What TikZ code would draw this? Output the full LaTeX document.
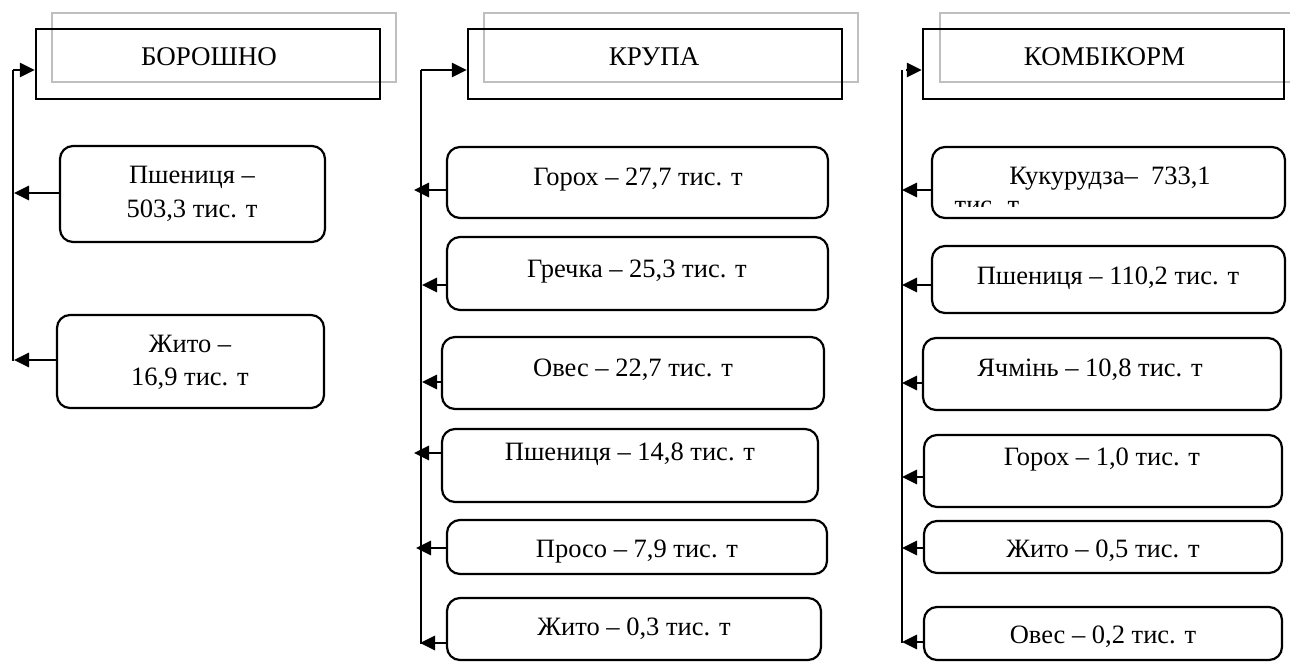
\documentclass[tikz,border=0pt]{standalone}
\usepackage{fontspec}
\setmainfont{Liberation Serif}
\usetikzlibrary{arrows.meta}
\begin{document}
\begin{tikzpicture}[x=1pt,y=-1pt,
  hdrbox/.style={draw=black,line width=2.4pt,minimum width=#1,minimum height=70pt,inner sep=0pt,fill=none},
  shadowbox/.style={draw=black!25,line width=2pt,minimum width=#1,minimum height=69pt,inner sep=0pt},
  itembox/.style n args={2}{draw=black,line width=2.2pt,rounded corners=13pt,minimum width=#1,minimum height=#2,inner sep=0pt},
  hdrtxt/.style={anchor=base,inner sep=0pt,font=\fontsize{27}{30}\selectfont},
  itemtxt/.style={anchor=base,inner sep=0pt,font=\fontsize{26.5}{30}\selectfont},
  conn/.style={line width=2.8pt},
  arr/.style={line width=2.8pt,-{Triangle[length=15pt,width=14pt]}}]
\useasboundingbox (0,0) rectangle (1290,662);
\clip (0,0) rectangle (1290,662);
\fill[white] (0,0) rectangle (1290,662);

% ---------- headers ----------
\node[shadowbox=344pt] (g1) at (224,47.5) {};
\node[shadowbox=374pt] (g2) at (671,47.5) {};
\node[shadowbox=361pt] (g3) at (1120.5,47.5) {};
\node[hdrbox=344pt] (h1) at (208,64) {};
\node[hdrbox=374pt] (h2) at (655,64) {};
\node[hdrbox=361pt] (h3) at (1103.5,64) {};
\node[hdrtxt] (h1t) at (209,65) {БОРОШНО};
\node[hdrtxt] (h2t) at (654,65) {КРУПА};
\node[hdrtxt] (h3t) at (1104.5,65) {КОМБІКОРМ};

% ---------- column 1 ----------
\node[itembox={265pt}{96pt}] (a1) at (192.5,194) {};
\node[itembox={267pt}{93pt}] (a2) at (190.5,361.5) {};
\node[itemtxt] (a1t) at (192,183) {Пшениця –};
\node[itemtxt] (a1u) at (192,217) {503,3 тис. т};
\node[itemtxt] (a2t) at (190,352) {Жито –};
\node[itemtxt] (a2u) at (190,385) {16,9 тис. т};

% ---------- column 2 ----------
\node[itembox={381pt}{71pt}] (b1) at (637.5,182.5) {};
\node[itembox={381pt}{73pt}] (b2) at (637.5,273.5) {};
\node[itembox={382pt}{72pt}] (b3) at (633,373) {};
\node[itembox={376pt}{73pt}] (b4) at (630,465.5) {};
\node[itembox={380pt}{54pt}] (b5) at (637,547) {};
\node[itembox={374pt}{62pt}] (b6) at (634,629) {};
\node[itemtxt] (b1t) at (638,185) {Горох – 27,7 тис. т};
\node[itemtxt] (b2t) at (637,277) {Гречка – 25,3 тис. т};
\node[itemtxt] (b3t) at (633,376) {Овес – 22,7 тис. т};
\node[itemtxt] (b4t) at (630,460) {Пшениця – 14,8 тис. т};
\node[itemtxt] (b5t) at (637,557) {Просо – 7,9 тис. т};
\node[itemtxt] (b6t) at (634,635) {Жито – 0,3 тис. т};

% ---------- column 3 ----------
\node[itembox={353pt}{71pt}] (c1) at (1108.5,182.5) {};
\node[itembox={353pt}{67pt}] (c2) at (1108.5,279.5) {};
\node[itembox={358pt}{72pt}] (c3) at (1102,374) {};
\node[itembox={358pt}{72pt}] (c4) at (1103,471) {};
\node[itembox={358pt}{52pt}] (c5) at (1103,547) {};
\node[itembox={358pt}{53pt}] (c6) at (1103,633.5) {};
\node[itemtxt] (c1t) at (1110,184) {Кукурудза–\ \ 733,1};
\begin{scope}
\clip (940,190) rectangle (1280,206);
\node[itemtxt] (c1u) at (987,213) {тис. т};
\end{scope}
\node[itemtxt] (c2t) at (1108,284) {Пшениця – 110,2 тис. т};
\node[itemtxt] (c3t) at (1090,376) {Ячмінь – 10,8 тис. т};
\node[itemtxt] (c4t) at (1102,465) {Горох – 1,0 тис. т};
\node[itemtxt] (c5t) at (1103,557) {Жито – 0,5 тис. т};
\node[itemtxt] (c6t) at (1103,643) {Овес – 0,2 тис. т};

% ---------- connectors column 1 ----------
\coordinate (l1top) at (13,70);
\coordinate (l1a) at (14,193);
\coordinate (l1b) at (14,360);
\coordinate (l1bot) at (13,361);
\draw[conn] (l1top) -- (l1bot);
\draw[arr] (l1top) -- (h1.west |- l1top);
\draw[arr] (a1.west |- l1a) -- (l1a);
\draw[arr] (a2.west |- l1b) -- (l1b);

% ---------- connectors column 2 ----------
\coordinate (l2top) at (421,70);
\coordinate (l2bot) at (421,644);
\coordinate (l2a) at (414,190);
\coordinate (l2b) at (422,285);
\coordinate (l2c) at (422,382);
\coordinate (l2d) at (414,453);
\coordinate (l2e) at (416,548);
\coordinate (l2f) at (420,643);
\draw[conn] (l2top) -- (l2bot);
\draw[arr] (l2top) -- (h2.west |- l2top);
\draw[arr] (b1.west |- l2a) -- (l2a);
\draw[arr] (b2.west |- l2b) -- (l2b);
\draw[arr] (b3.west |- l2c) -- (l2c);
\draw[arr] (b4.west |- l2d) -- (l2d);
\draw[arr] (b5.west |- l2e) -- (l2e);
\draw[arr] (b6.west |- l2f) -- (l2f);

% ---------- connectors column 3 ----------
\coordinate (l3top) at (902,70);
\coordinate (l3bot) at (902,643);
\coordinate (l3s) at (906,70);
\coordinate (l3a) at (902,190);
\coordinate (l3b) at (902,285);
\coordinate (l3c) at (902,383);
\coordinate (l3d) at (902,477);
\coordinate (l3e) at (902,548);
\coordinate (l3f) at (902,642);
\draw[conn] (l3top) -- (l3bot);
\draw[arr] (l3s) -- (h3.west |- l3s);
\draw[arr] (c1.west |- l3a) -- (l3a);
\draw[arr] (c2.west |- l3b) -- (l3b);
\draw[arr] (c3.west |- l3c) -- (l3c);
\draw[arr] (c4.west |- l3d) -- (l3d);
\draw[arr] (c5.west |- l3e) -- (l3e);
\draw[arr] (c6.west |- l3f) -- (l3f);
\end{tikzpicture}
\end{document}
